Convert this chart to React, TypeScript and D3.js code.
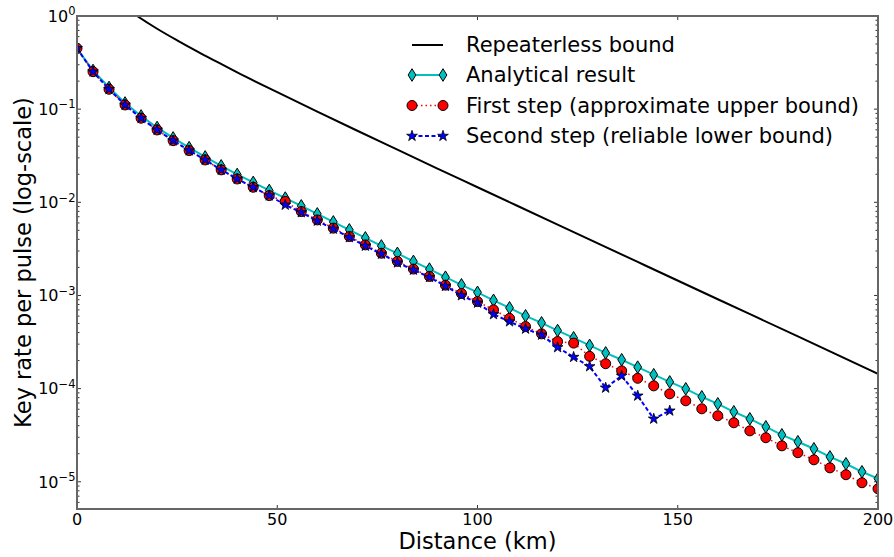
import { useEffect, useRef } from "react";
import * as d3 from "d3";

// distances (km) where the simulated / analytical points sit
const distanceKm = [
  0, 4, 8, 12, 16, 20, 24, 28, 32, 36, 40, 44, 48, 52, 56, 60, 64, 68, 72, 76, 80, 84, 88, 92, 96, 100, 104, 108, 112,
  116, 120, 124, 128, 132, 136, 140, 144, 148, 152, 156, 160, 164, 168, 172, 176, 180, 184, 188, 192, 196, 200,
];

const analytical = [
  0.448, 0.26, 0.171, 0.1165, 0.0845, 0.0636, 0.0491, 0.0386, 0.0307, 0.0246, 0.0199, 0.01635, 0.0134, 0.0111, 0.00915,
  0.00751, 0.00616, 0.00506, 0.00415, 0.0034, 0.00283, 0.00232, 0.00192, 0.00157, 0.0013, 0.00108, 0.000886, 0.000736,
  0.000604, 0.000508, 0.00042, 0.000351, 0.000291, 0.000242, 0.000204, 0.00017, 0.000141, 0.000118, 0.0000995,
  0.0000817, 0.0000687, 0.0000564, 0.0000474, 0.0000389, 0.0000319, 0.0000269, 0.0000226, 0.0000185, 0.0000156,
  0.0000128, 0.0000108,
];

const firstStep = [
  0.45, 0.2525, 0.1634, 0.1109, 0.0799, 0.0598, 0.0459, 0.0359, 0.0285, 0.0223, 0.0178, 0.0145, 0.0118, 0.0102, 0.00795,
  0.00647, 0.00528, 0.00429, 0.00349, 0.00284, 0.00232, 0.00192, 0.0016, 0.00129, 0.00105, 0.00086, 0.000701, 0.000568,
  0.000463, 0.000387, 0.00032, 0.000308, 0.000222, 0.000185, 0.000155, 0.000129, 0.000107, 0.0000879, 0.000074,
  0.0000607, 0.0000511, 0.000043, 0.0000352, 0.0000297, 0.0000243, 0.0000205, 0.0000172, 0.0000141, 0.0000119,
  0.00000976, 0.00000841,
];

// stops at 148 km
const secondStep = [
  0.45, 0.2525, 0.1634, 0.1109, 0.0799, 0.0598, 0.0459, 0.0359, 0.0285, 0.0223, 0.0178, 0.0145, 0.0118, 0.00938,
  0.00779, 0.00632, 0.00518, 0.0042, 0.0034, 0.00279, 0.00225, 0.00188, 0.00157, 0.00126, 0.001, 0.000833, 0.000627,
  0.000525, 0.000438, 0.000378, 0.000277, 0.000218, 0.000173, 0.000102, 0.000137, 0.0000837, 0.0000474, 0.0000578,
];

const boundKm = [12, 15, 20, 25, 30, 35, 40, 50, 60, 70, 80, 90, 100, 120, 140, 160, 180, 200];
const boundRate = [
  1.23, 1.0, 0.73, 0.548, 0.417, 0.321, 0.248, 0.152, 0.094, 0.0586, 0.0367, 0.023, 0.0145, 0.00576, 0.00229, 0.000911,
  0.000363, 0.000144,
];

const xTicks = [0, 50, 100, 150, 200];
const yDecades = [0, -1, -2, -3, -4, -5];
const legendLabels = [
  "Repeaterless bound",
  "Analytical result",
  "First step (approximate upper bound)",
  "Second step (reliable lower bound)",
];

const FONT = "DejaVu Sans";
const diamond = "M0,-6.3L3.9,0L0,6.3L-3.9,0Z";

function renderChart(node) {
  const w = 894,
    h = 557;
  const left = 77,
    right = 878,
    top = 16,
    bottom = 509;
  const svg = d3.select(node);
  svg.selectAll("*").remove();
  svg.attr("width", w).attr("height", h).attr("viewBox", `0 0 ${w} ${h}`);

  const x = d3.scaleLinear().domain([0, 200]).range([left, right]);
  const y = d3.scaleLog().domain([5.1e-6, 1]).range([bottom, top]);

  svg.append("rect").attr("width", w).attr("height", h).attr("fill", "#fff");
  svg
    .append("defs")
    .append("clipPath")
    .attr("id", "plot-clip")
    .append("rect")
    .attr("x", left)
    .attr("y", top)
    .attr("width", right - left)
    .attr("height", bottom - top);

  const plot = svg.append("g").attr("clip-path", "url(#plot-clip)");
  const star = d3.symbol(d3.symbolStar, 36)();

  // repeaterless bound
  const boundPts = boundKm.map((d, i) => [x(d), y(boundRate[i])]);
  plot
    .append("path")
    .attr("d", d3.line().curve(d3.curveMonotoneX)(boundPts))
    .attr("fill", "none")
    .attr("stroke", "#000")
    .attr("stroke-width", 2);

  const line = d3
    .line()
    .x((d) => x(d[0]))
    .y((d) => y(d[1]));

  // analytical
  const anPts = distanceKm.map((d, i) => [d, analytical[i]]);
  plot.append("path").attr("d", line(anPts)).attr("fill", "none").attr("stroke", "#00bfbf").attr("stroke-width", 2);
  plot
    .selectAll(".dia")
    .data(anPts)
    .join("path")
    .attr("d", diamond)
    .attr("transform", (d) => `translate(${x(d[0])},${y(d[1])})`)
    .attr("fill", "#00bfbf")
    .attr("stroke", "#000")
    .attr("stroke-width", 1);

  // first step
  const fsPts = distanceKm.map((d, i) => [d, firstStep[i]]);
  plot
    .append("path")
    .attr("d", line(fsPts))
    .attr("fill", "none")
    .attr("stroke", "#ff0000")
    .attr("stroke-width", 1.5)
    .attr("stroke-dasharray", "1.5,3");
  plot
    .selectAll(".dot")
    .data(fsPts)
    .join("circle")
    .attr("cx", (d) => x(d[0]))
    .attr("cy", (d) => y(d[1]))
    .attr("r", 5)
    .attr("fill", "#ff0000")
    .attr("stroke", "#000")
    .attr("stroke-width", 1);

  // second step
  const ssPts = secondStep.map((v, i) => [distanceKm[i], v]);
  plot
    .append("path")
    .attr("d", line(ssPts))
    .attr("fill", "none")
    .attr("stroke", "#0000ff")
    .attr("stroke-width", 2)
    .attr("stroke-dasharray", "4,2.5");
  plot
    .selectAll(".star")
    .data(ssPts)
    .join("path")
    .attr("d", star)
    .attr("transform", (d) => `translate(${x(d[0])},${y(d[1])})`)
    .attr("fill", "#0000ff")
    .attr("stroke", "#000")
    .attr("stroke-width", 0.8);

  // frame + ticks
  const axis = svg.append("g").attr("stroke", "#333").attr("stroke-width", 1);
  xTicks.forEach((t) => {
    axis.append("line").attr("x1", x(t)).attr("x2", x(t)).attr("y1", bottom).attr("y2", bottom - 4);
    axis.append("line").attr("x1", x(t)).attr("x2", x(t)).attr("y1", top).attr("y2", top + 4);
  });
  yDecades.forEach((k) => {
    const py = y(Math.pow(10, k));
    axis.append("line").attr("x1", left).attr("x2", left + 4).attr("y1", py).attr("y2", py);
    axis.append("line").attr("x1", right).attr("x2", right - 4).attr("y1", py).attr("y2", py);
    for (let m = 2; m <= 9; m++) {
      const v = m * Math.pow(10, k - 1);
      if (v < y.domain()[0]) continue;
      const my = y(v);
      axis.append("line").attr("x1", left).attr("x2", left + 2.5).attr("y1", my).attr("y2", my);
      axis.append("line").attr("x1", right).attr("x2", right - 2.5).attr("y1", my).attr("y2", my);
    }
  });
  svg
    .append("rect")
    .attr("x", left)
    .attr("y", top)
    .attr("width", right - left)
    .attr("height", bottom - top)
    .attr("fill", "none")
    .attr("stroke", "#666")
    .attr("stroke-width", 2);

  // tick labels
  svg
    .selectAll(".xt")
    .data(xTicks)
    .join("text")
    .attr("x", (d) => x(d))
    .attr("y", 525)
    .attr("text-anchor", "middle")
    .attr("font-family", FONT)
    .attr("font-size", 16)
    .text((d) => d);

  yDecades.forEach((k) => {
    const t = svg
      .append("text")
      .attr("x", 75.5)
      .attr("y", y(Math.pow(10, k)) + 5.8)
      .attr("text-anchor", "end")
      .attr("font-family", FONT)
      .attr("font-size", 16);
    t.append("tspan").text("10");
    t.append("tspan")
      .attr("dy", -6.5)
      .attr("font-size", 11.5)
      .text(k === 0 ? "0" : `\u2212${-k}`);
  });

  // axis titles
  svg
    .append("text")
    .attr("x", (left + right) / 2)
    .attr("y", 549)
    .attr("text-anchor", "middle")
    .attr("font-family", FONT)
    .attr("font-size", 22.5)
    .text("Distance (km)");
  svg
    .append("text")
    .attr("transform", `translate(31,${(top + bottom) / 2}) rotate(-90)`)
    .attr("text-anchor", "middle")
    .attr("font-family", FONT)
    .attr("font-size", 22.5)
    .text("Key rate per pulse (log-scale)");

  // legend
  const rows = [45, 75, 105.5, 136];
  const lx1 = 412,
    lx2 = 443;
  const lg = svg.append("g");
  lg.append("line").attr("x1", lx1).attr("x2", lx2).attr("y1", rows[0]).attr("y2", rows[0]).attr("stroke", "#000").attr("stroke-width", 2);
  lg.append("line").attr("x1", lx1).attr("x2", lx2).attr("y1", rows[1]).attr("y2", rows[1]).attr("stroke", "#00bfbf").attr("stroke-width", 2);
  lg.append("line")
    .attr("x1", lx1)
    .attr("x2", lx2)
    .attr("y1", rows[2])
    .attr("y2", rows[2])
    .attr("stroke", "#ff0000")
    .attr("stroke-width", 1.5)
    .attr("stroke-dasharray", "1.5,3");
  lg.append("line")
    .attr("x1", lx1)
    .attr("x2", lx2)
    .attr("y1", rows[3])
    .attr("y2", rows[3])
    .attr("stroke", "#0000ff")
    .attr("stroke-width", 2)
    .attr("stroke-dasharray", "4,2.5");
  [lx1, lx2].forEach((px) => {
    lg.append("path")
      .attr("d", diamond)
      .attr("transform", `translate(${px},${rows[1]})`)
      .attr("fill", "#00bfbf")
      .attr("stroke", "#000");
    lg.append("circle").attr("cx", px).attr("cy", rows[2]).attr("r", 5).attr("fill", "#ff0000").attr("stroke", "#000");
    lg.append("path")
      .attr("d", star)
      .attr("transform", `translate(${px},${rows[3]})`)
      .attr("fill", "#0000ff")
      .attr("stroke", "#000")
      .attr("stroke-width", 0.8);
  });
  lg.selectAll("text")
    .data(legendLabels)
    .join("text")
    .attr("x", 466)
    .attr("y", (d, i) => rows[i] + 7.3)
    .attr("font-family", FONT)
    .attr("font-size", 21)
    .text((d) => d);
}

export default function App() {
  const ref = useRef(null);
  useEffect(() => {
    if (ref.current) renderChart(ref.current);
  }, []);
  return <svg ref={ref} style={{ position: "absolute", left: 0, top: 0 }} />;
}
